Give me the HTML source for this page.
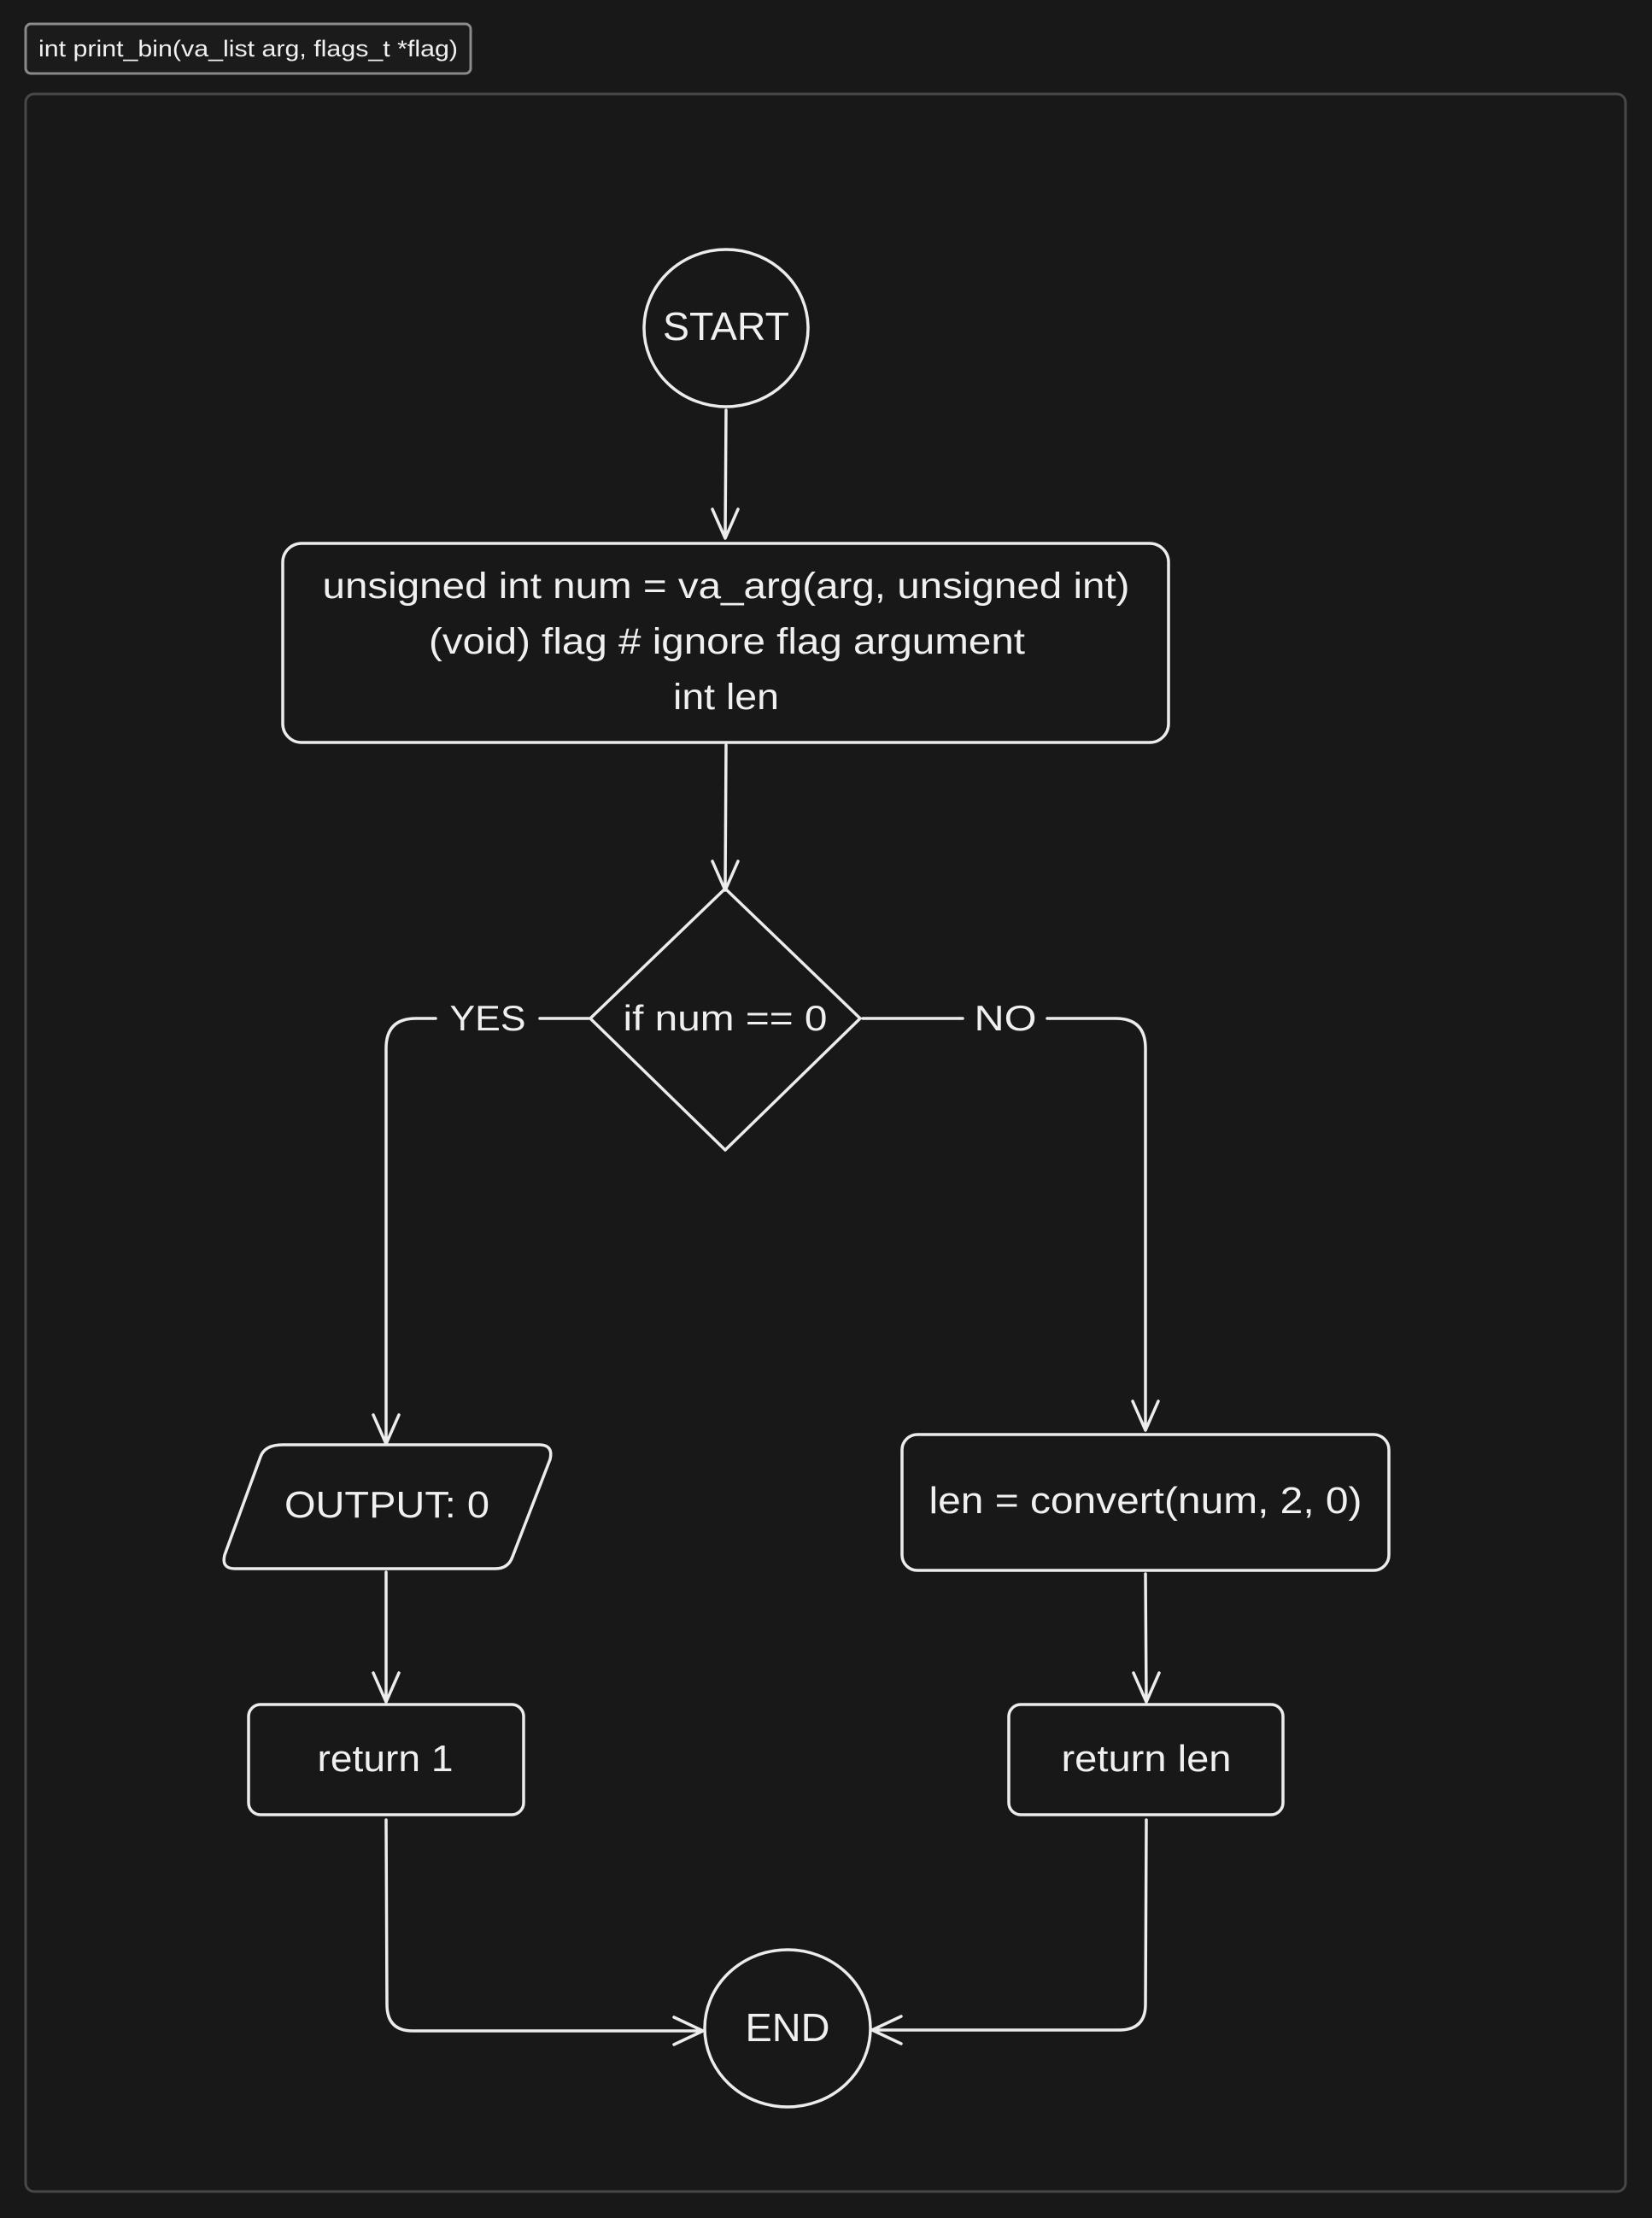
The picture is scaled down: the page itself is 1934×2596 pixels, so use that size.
<!DOCTYPE html>
<html><head><meta charset="utf-8"><style>
html,body{margin:0;padding:0;background:#181818;}
body{width:1934px;height:2596px;overflow:hidden;position:relative;}
</style></head><body>
<svg width="1934" height="2596" viewBox="0 0 1934 2596" xmlns="http://www.w3.org/2000/svg" style="position:absolute;left:0;top:0">
<rect x="0" y="0" width="1934" height="2596" fill="#181818"/>
<rect x="30" y="28" width="521" height="58" rx="6" fill="#1b1b1b" stroke="#8a8a8a" stroke-width="3"/>
<text x="45" y="66" font-family="Liberation Sans, sans-serif" font-size="27" fill="#f0f0f0" textLength="491" lengthAdjust="spacingAndGlyphs">int print_bin(va_list arg, flags_t *flag)</text>
<rect x="30" y="110" width="1873" height="2455" rx="10" fill="#181818" stroke="#484848" stroke-width="3"/>
<g fill="none" stroke="#ececec" stroke-width="3.5" stroke-linecap="round" stroke-linejoin="round">
<ellipse cx="850" cy="384" rx="96" ry="92"/>
<path d="M850 480 L849 628 M834 596 L849 630 L864 596"/>
<rect x="331" y="636" width="1037" height="233" rx="22"/>
<path d="M850 872 L849 1040 M834 1008 L849 1042 L864 1008"/>
<path d="M849 1040 L1007 1192 L849 1346 L691 1192 Z"/>
<path d="M689 1192 L632 1192 M510 1192 L487 1192 Q452 1192 452 1227 L452 1688 M437 1656 L452 1690 L467 1656"/>
<path d="M1010 1192 L1127 1192 M1226 1192 L1306 1192 Q1341 1192 1341 1227 L1341 1672 M1326 1640 L1341 1674 L1356 1640"/>
<path d="M331 1691 L631 1691 Q648 1691 644 1708 L600 1822 Q595 1836 580 1836 L275 1836 Q259 1836 263 1820 L305 1705 Q310 1691 331 1691 Z"/>
<rect x="1056" y="1679" width="570" height="159" rx="18"/>
<path d="M452 1840 L452 1990 M437 1958 L452 1992 L467 1958"/>
<path d="M1341 1842 L1342 1990 M1327 1958 L1342 1992 L1357 1958"/>
<rect x="291" y="1995" width="322" height="129" rx="14"/>
<rect x="1181" y="1995" width="321" height="129" rx="14"/>
<path d="M452 2130 L453 2346 Q453 2377 483 2377 L821 2377 M789 2361 L823 2377 L789 2393"/>
<path d="M1342 2130 L1341 2346 Q1341 2376 1310 2376 L1023 2376 M1055 2360 L1021 2376 L1055 2392"/>
<ellipse cx="922" cy="2374" rx="97" ry="92"/>
</g>
<g font-family="Liberation Sans, sans-serif" fill="#f0f0f0" text-anchor="middle" lengthAdjust="spacingAndGlyphs">
<text x="850" y="398" font-size="46" textLength="148" lengthAdjust="spacingAndGlyphs">START</text>
<text x="850" y="700" font-size="43" textLength="945" lengthAdjust="spacingAndGlyphs">unsigned int num = va_arg(arg, unsigned int)</text>
<text x="851" y="765" font-size="43" textLength="698" lengthAdjust="spacingAndGlyphs">(void) flag # ignore flag argument</text>
<text x="850" y="830" font-size="43" textLength="124" lengthAdjust="spacingAndGlyphs">int len</text>
<text x="849" y="1206" font-size="42" textLength="239" lengthAdjust="spacingAndGlyphs">if num == 0</text>
<text x="571" y="1206" font-size="42" textLength="89" lengthAdjust="spacingAndGlyphs">YES</text>
<text x="1177" y="1206" font-size="42" textLength="73" lengthAdjust="spacingAndGlyphs">NO</text>
<text x="453" y="1776" font-size="44" textLength="240" lengthAdjust="spacingAndGlyphs">OUTPUT: 0</text>
<text x="1341" y="1771" font-size="44" textLength="507" lengthAdjust="spacingAndGlyphs">len = convert(num, 2, 0)</text>
<text x="451" y="2073" font-size="44" textLength="159" lengthAdjust="spacingAndGlyphs">return 1</text>
<text x="1342" y="2073" font-size="44" textLength="199" lengthAdjust="spacingAndGlyphs">return len</text>
<text x="922" y="2389" font-size="46" textLength="99" lengthAdjust="spacingAndGlyphs">END</text>
</g>
</svg>
</body></html>
